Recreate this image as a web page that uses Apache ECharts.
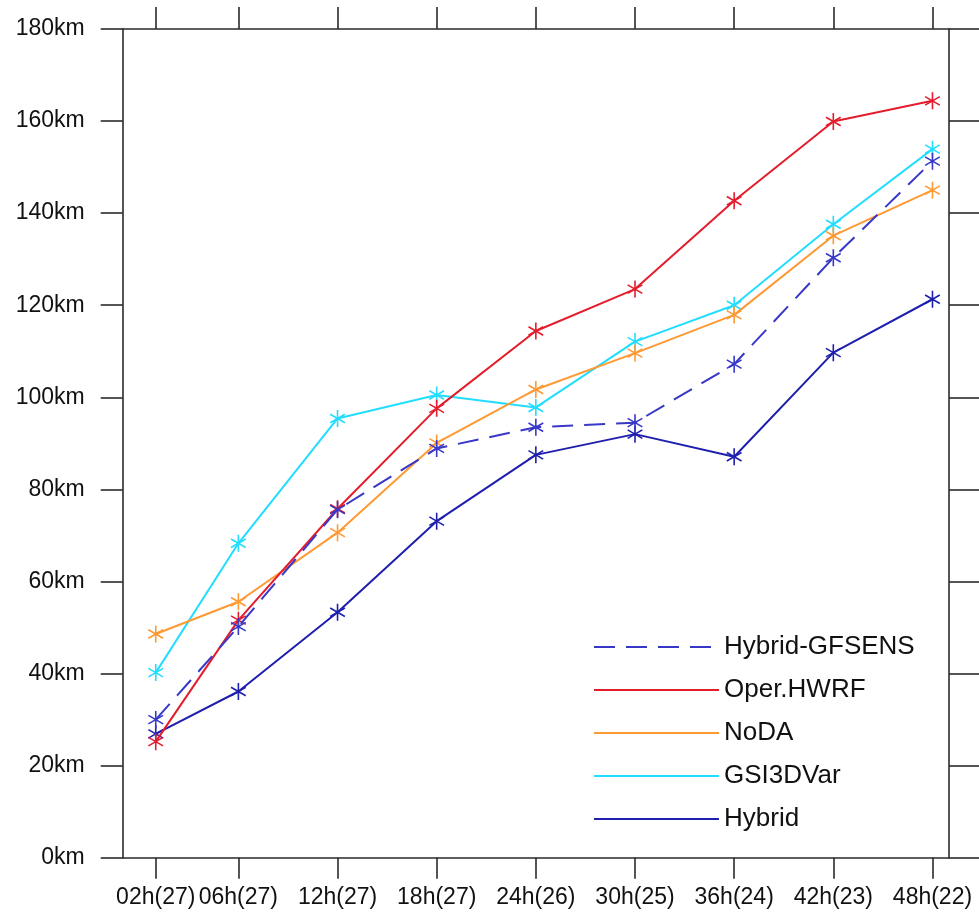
<!DOCTYPE html>
<html>
<head>
<meta charset="utf-8">
<script src="https://cdn.jsdelivr.net/npm/echarts@6/dist/echarts.min.js"></script>
<style>
html,body{margin:0;padding:0;background:#fff;}
#chart{width:979px;height:921px;}
</style>
</head>
<body>
<div id="chart"></div>
<script>
// Forecast lead positions on the x axis (the 02h point sits at 1 in the original figure)
const leadPos = [1, 6, 12, 18, 24, 30, 36, 42, 48];
const leadLabels = ['02h(27)', '06h(27)', '12h(27)', '18h(27)', '24h(26)', '30h(25)', '36h(24)', '42h(23)', '48h(22)'];
const yTicks = [0, 20, 40, 60, 80, 100, 120, 140, 160, 180];

const seriesNames = ['Hybrid-GFSENS', 'Oper.HWRF', 'NoDA', 'GSI3DVar', 'Hybrid'];
const hybridGfsens = [30.0, 50.2, 75.6, 88.9, 93.5, 94.5, 107.2, 130.3, 151.3];
const operHwrf     = [25.2, 51.6, 75.8, 97.6, 114.4, 123.5, 142.7, 159.9, 164.4];
const noda         = [48.6, 55.6, 70.6, 90.1, 101.7, 109.6, 117.9, 135.1, 145.0];
const gsi3dvar     = [40.2, 68.3, 95.4, 100.5, 97.8, 112.1, 120.0, 137.6, 153.9];
const hybrid       = [26.9, 36.1, 53.3, 73.1, 87.5, 92.0, 87.1, 109.7, 121.3];

const colors = ['#3838c8', '#e41d2d', '#ff9933', '#22ddff', '#1f1fae'];
const allValues = [hybridGfsens, operHwrf, noda, gsi3dvar, hybrid];

const star = 'path://M0,-10 L0,10 M-8.66,-5 L8.66,5 M-8.66,5 L8.66,-5';
const FONT = "'Liberation Sans', Arial, Helvetica, sans-serif";
const axisColor = '#2a2a2a';

const series = seriesNames.map((name, i) => ({
  name: name,
  type: 'line',
  data: leadPos.map((x, j) => [x, allValues[i][j]]),
  symbol: star,
  symbolSize: 17,
  symbolKeepAspect: true,
  showSymbol: true,
  lineStyle: { color: colors[i], width: 2, type: i === 0 ? [21, 11] : 'solid' },
  itemStyle: { color: colors[i], borderColor: colors[i], borderWidth: 1.6 },
  z: 10 - i,
  animation: false
}));

const axisLineStyle = { show: true, onZero: false, lineStyle: { color: axisColor, width: 1.6 } };

const chart = echarts.init(document.getElementById('chart'), null, { renderer: 'canvas' });
chart.setOption({
  backgroundColor: '#ffffff',
  animation: false,
  grid: { left: 122.7, top: 29, right: 30, bottom: 63.3, containLabel: false, outerBoundsMode: 'none' },
  xAxis: [
    {
      type: 'value', position: 'bottom', min: -1, max: 49,
      splitLine: { show: false },
      axisLine: axisLineStyle,
      axisTick: { show: true, customValues: leadPos, length: 21, inside: false, lineStyle: { color: axisColor, width: 1.6 } },
      axisLabel: {
        show: true, customValues: leadPos, margin: 28,
        fontSize: 23, color: '#111', fontFamily: FONT,
        formatter: v => { const k = leadPos.indexOf(v); return k >= 0 ? leadLabels[k] : ''; }
      }
    },
    {
      type: 'value', position: 'top', min: -1, max: 49,
      splitLine: { show: false },
      axisLine: axisLineStyle,
      axisTick: { show: true, customValues: leadPos, length: 22, inside: false, lineStyle: { color: axisColor, width: 1.6 } },
      axisLabel: { show: false }
    }
  ],
  yAxis: [
    {
      type: 'value', position: 'left', min: 0, max: 180, interval: 20,
      splitLine: { show: false },
      axisLine: axisLineStyle,
      axisTick: { show: true, length: 22, inside: false, lineStyle: { color: axisColor, width: 1.6 } },
      axisLabel: {
        show: true, margin: 38, fontSize: 23, color: '#111', fontFamily: FONT,
        formatter: v => (yTicks.indexOf(v) >= 0 ? v + 'km' : '')
      }
    },
    {
      type: 'value', position: 'right', min: 0, max: 180, interval: 20,
      splitLine: { show: false },
      axisLine: axisLineStyle,
      axisTick: { show: true, length: 30, inside: false, lineStyle: { color: axisColor, width: 1.6 } },
      axisLabel: { show: false }
    }
  ],
  legend: {
    show: true,
    orient: 'vertical',
    left: 588,
    top: 629,
    itemWidth: 125,
    itemHeight: 20,
    itemGap: 17,
    data: seriesNames,
    selectedMode: false,
    itemStyle: { opacity: 0, borderWidth: 0 },
    textStyle: { fontSize: 26, lineHeight: 26, color: '#111', fontFamily: FONT }
  },
  series: series
});
</script>
</body>
</html>
